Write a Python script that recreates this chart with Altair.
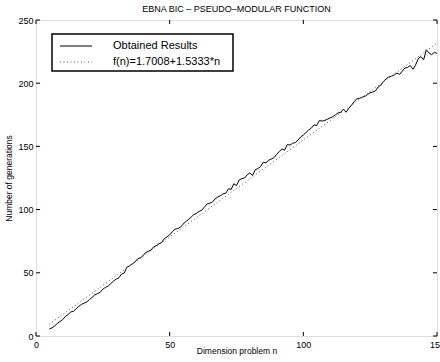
import altair as alt
import pandas as pd

# ---- data ----
dimension_n = list(range(5, 151))
generations = [
    5.5, 6.5, 8.0, 10.0, 11.5, 13.0, 15.5, 17.0, 19.0, 19.5,
    21.5, 23.5, 25.0, 26.0, 27.0, 28.8, 30.5, 32.5, 33.5, 34.5,
    37.0, 38.5, 39.5, 41.5, 43.5, 45.0, 46.0, 49.0, 49.8, 54.5,
    55.5, 57.0, 58.5, 61.0, 61.8, 63.5, 66.0, 67.0, 68.0, 70.5,
    71.5, 73.0, 74.0, 77.0, 78.5, 80.0, 82.5, 84.5, 85.0, 86.0,
    88.5, 90.5, 92.0, 94.0, 96.0, 97.0, 98.5, 99.5, 102.0, 104.5,
    105.0, 106.0, 108.5, 110.0, 111.0, 112.5, 113.0, 116.5, 116.0, 120.5,
    119.0, 123.5, 124.5, 125.0, 127.5, 129.0, 127.0, 131.5, 132.5, 134.0,
    137.5, 137.0, 139.0, 140.0, 141.0, 143.5, 146.0, 148.0, 147.0, 151.5,
    151.0, 152.5, 153.0, 155.0, 157.5, 159.0, 161.0, 163.0, 164.5, 167.0,
    166.5, 170.5, 170.0, 170.5, 171.5, 172.5, 173.5, 175.0, 176.5, 177.0,
    179.5, 177.0, 180.0, 182.5, 185.5, 187.5, 188.0, 189.0, 189.5, 191.0,
    192.5, 193.0, 194.0, 197.0, 198.5, 201.5, 203.5, 205.0, 205.5, 206.5,
    208.0, 207.0, 209.5, 212.0, 212.5, 214.0, 211.0, 214.5, 219.5, 221.0,
    218.5, 226.5, 224.0, 222.5, 224.5, 223.5,
]
fit_n = [5, 150]
fit_values = [9.37, 231.70]
x_ticks = [0, 50, 100, 150]
y_ticks = [0, 50, 100, 150, 200, 250]
legend_labels = ["Obtained Results", "f(n)=1.7008+1.5333*n"]

FONT = "Liberation Sans"
W, H = 401, 316

obtained = pd.DataFrame({"n": dimension_n, "g": generations})
fit = pd.DataFrame({"n": fit_n, "g": fit_values})
xt = pd.DataFrame({"v": x_ticks})
yt = pd.DataFrame({"v": y_ticks})
one = pd.DataFrame({"k": [0]})

xs = alt.Scale(domain=[0, 150], nice=False, zero=False)
ys = alt.Scale(domain=[0, 250], nice=False, zero=False)

x_axis = alt.Axis(values=x_ticks, ticks=False, domain=False, grid=False,
                  labelFont=FONT, labelFontSize=9, labelColor="black",
                  labelPadding=4, title="Dimension problem n",
                  titleFont=FONT, titleFontSize=8.5, titleFontWeight="normal",
                  titleColor="black", titleY=10, titleBaseline="top",
                  labelFlush=False)
y_axis = alt.Axis(values=y_ticks, ticks=False, domain=False, grid=False,
                  labelFont=FONT, labelFontSize=9, labelColor="black",
                  labelPadding=3, title="Number of generations",
                  titleFont=FONT, titleFontSize=8.5, titleFontWeight="normal",
                  titleColor="black", titlePadding=4, labelFlush=False)

line = alt.Chart(obtained).mark_line(color="black", strokeWidth=1).encode(
    x=alt.X("n:Q", scale=xs, axis=x_axis),
    y=alt.Y("g:Q", scale=ys, axis=y_axis),
)
fit_line = alt.Chart(fit).mark_line(color="#555555", strokeWidth=1,
                                    strokeDash=[1, 2.5]).encode(
    x=alt.X("n:Q", scale=xs),
    y=alt.Y("g:Q", scale=ys),
)

TL = 4
xb = alt.Chart(xt).mark_rule(color="black", strokeWidth=1).encode(
    x=alt.X("v:Q", scale=xs), y=alt.value(H), y2=alt.value(H - TL))
xtop = alt.Chart(xt).mark_rule(color="black", strokeWidth=1).encode(
    x=alt.X("v:Q", scale=xs), y=alt.value(0), y2=alt.value(TL))
yl = alt.Chart(yt).mark_rule(color="black", strokeWidth=1).encode(
    y=alt.Y("v:Q", scale=ys), x=alt.value(0), x2=alt.value(TL))
yr = alt.Chart(yt).mark_rule(color="black", strokeWidth=1).encode(
    y=alt.Y("v:Q", scale=ys), x=alt.value(W), x2=alt.value(W - TL))

# legend box drawn by hand
box = alt.Chart(one).mark_rect(fill="white", stroke="black", strokeWidth=1.5).encode(
    x=alt.value(16), x2=alt.value(197), y=alt.value(14), y2=alt.value(51))
leg_solid = alt.Chart(one).mark_rule(color="black", strokeWidth=1).encode(
    x=alt.value(24), x2=alt.value(56), y=alt.value(26), y2=alt.value(26))
leg_dot = alt.Chart(one).mark_rule(color="#555555", strokeWidth=1,
                                   strokeDash=[1, 2.5]).encode(
    x=alt.value(24), x2=alt.value(56), y=alt.value(42), y2=alt.value(42))
leg_t1 = alt.Chart(one).mark_text(align="left", baseline="middle", font=FONT,
                                  fontSize=11, color="black",
                                  text=legend_labels[0]).encode(
    x=alt.value(77), y=alt.value(26))
leg_t2 = alt.Chart(one).mark_text(align="left", baseline="middle", font=FONT,
                                  fontSize=11, color="black",
                                  text=legend_labels[1]).encode(
    x=alt.value(77), y=alt.value(42))

chart = alt.layer(
    line, fit_line, xb, xtop, yl, yr, box, leg_solid, leg_dot, leg_t1, leg_t2
).properties(
    width=W, height=H,
    title=alt.TitleParams("EBNA BIC – PSEUDO–MODULAR FUNCTION", font=FONT,
                          fontSize=9, fontWeight="normal", color="black",
                          anchor="middle", offset=2),
    autosize=alt.AutoSizeParams(type="none"),
    padding={"left": 36, "top": 20, "right": 3, "bottom": 26},
).configure_view(stroke="black", strokeWidth=1.5).configure(background="white")

chart.save("out.html", embed_options={"renderer": "svg", "actions": False})
